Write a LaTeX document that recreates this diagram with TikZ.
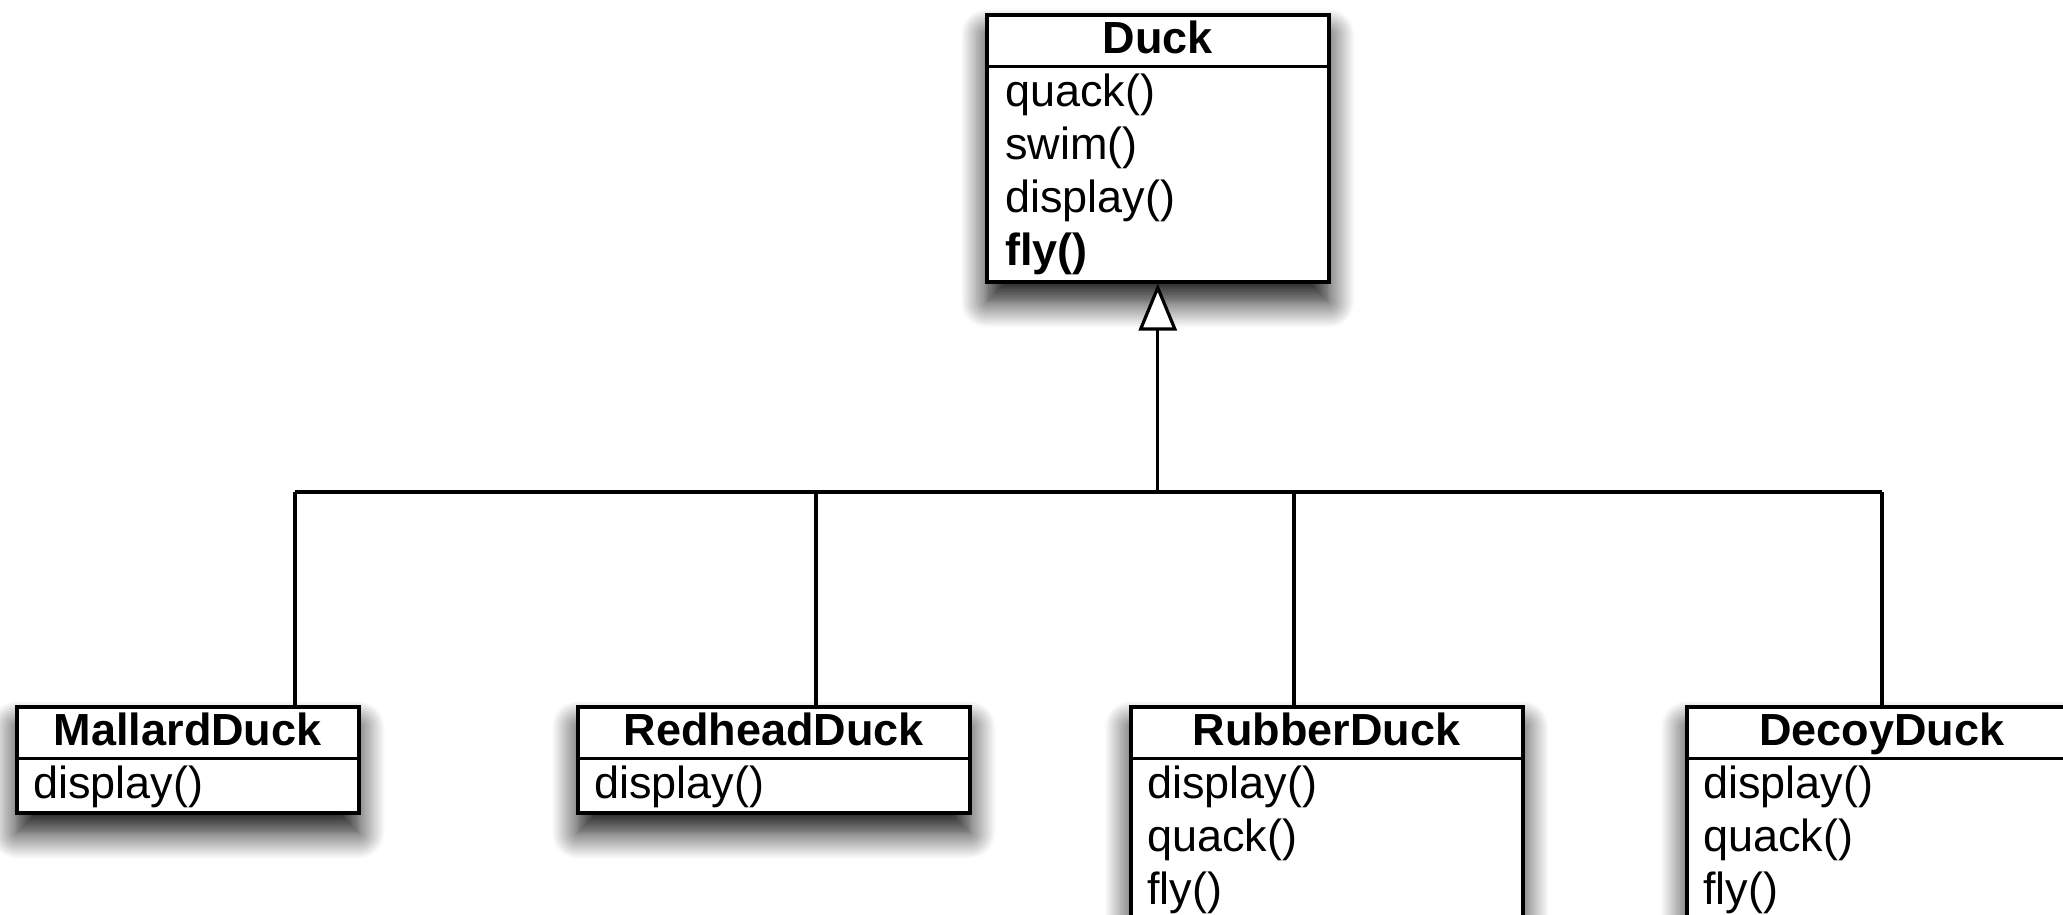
\documentclass[tikz,border=0pt]{standalone}
\usepackage{fontspec}
\setmainfont{Liberation Sans}
\usetikzlibrary{arrows.meta,shadows.blur}
\tikzset{
  classbox/.style={draw, line width=3.5pt, fill=white, inner sep=0pt, anchor=north west,
    blur shadow={shadow xshift=0pt, shadow yshift=-20pt, shadow blur radius=26pt, shadow blur steps=14, shadow opacity=95}},
  divider/.style={line width=3pt},
  conn/.style={line width=3.2pt},
  inherit/.style={conn, -{Triangle[open, length=47pt, width=38pt, fill=white]}},
  ctitle/.style={inner sep=0pt, anchor=base, font=\fontsize{45}{53}\selectfont\bfseries},
  member/.style={inner sep=0pt, anchor=base west, font=\fontsize{45}{53}\selectfont},
  bmember/.style={member, font=\fontsize{45}{53}\selectfont\bfseries}
}
\begin{document}
\begin{tikzpicture}[x=1pt, y=-1pt]
\useasboundingbox (0,0) rectangle (2063,914);
\clip (0,0) rectangle (2063,914);

% Duck
\node[classbox, minimum width=342pt, minimum height=267pt] (duck) at (985,13) {};
\draw[divider] ([yshift=-53pt]duck.north west) -- ([yshift=-53pt]duck.north east);
\node[ctitle] (duckT) at (duck.north |- 0,53) {Duck};
\node[member] (duckM1) at (1005,106) {quack()};
\node[member] (duckM2) at (1005,159) {swim()};
\node[member] (duckM3) at (1005,212) {display()};
\node[bmember] (duckM4) at (1005,265) {fly()};

% MallardDuck
\node[classbox, minimum width=342pt, minimum height=106pt] (mallard) at (15,705) {};
\draw[divider] ([yshift=-53pt]mallard.north west) -- ([yshift=-53pt]mallard.north east);
\node[ctitle] (mallardT) at (mallard.north |- 0,745) {MallardDuck};
\node[member] (mallardM1) at (33,798) {display()};

% RedheadDuck
\node[classbox, minimum width=392pt, minimum height=106pt] (redhead) at (576,705) {};
\draw[divider] ([yshift=-53pt]redhead.north west) -- ([yshift=-53pt]redhead.north east);
\node[ctitle] (redheadT) at (redhead.north |- 0,745) {RedheadDuck};
\node[member] (redheadM1) at (594,798) {display()};

% RubberDuck
\node[classbox, minimum width=392pt, minimum height=214pt] (rubber) at (1129,705) {};
\draw[divider] ([yshift=-53pt]rubber.north west) -- ([yshift=-53pt]rubber.north east);
\node[ctitle] (rubberT) at (rubber.north |- 0,745) {RubberDuck};
\node[member] (rubberM1) at (1147,798) {display()};
\node[member] (rubberM2) at (1147,851) {quack()};
\node[member] (rubberM3) at (1147,904) {fly()};

% DecoyDuck
\node[classbox, minimum width=390pt, minimum height=214pt] (decoy) at (1685,705) {};
\draw[divider] ([yshift=-53pt]decoy.north west) -- ([yshift=-53pt]decoy.north east);
\node[ctitle] (decoyT) at (decoy.north |- 0,745) {DecoyDuck};
\node[member] (decoyM1) at (1703,798) {display()};
\node[member] (decoyM2) at (1703,851) {quack()};
\node[member] (decoyM3) at (1703,904) {fly()};

% connectors
\coordinate (jm) at (295,492);
\coordinate (jr) at (816,492);
\coordinate (ju) at (1294,492);
\coordinate (jd) at (1882,492);
\coordinate (jc) at (duck.south |- jm);
\draw[conn] (jm) -- (jd);
\draw[conn] (jm) -- (jm |- mallard.north);
\draw[conn] (jr) -- (jr |- redhead.north);
\draw[conn] (ju) -- (ju |- rubber.north);
\draw[conn] (jd) -- (jd |- decoy.north);
\draw[inherit] (jc) -- (duck.south);
\end{tikzpicture}
\end{document}
